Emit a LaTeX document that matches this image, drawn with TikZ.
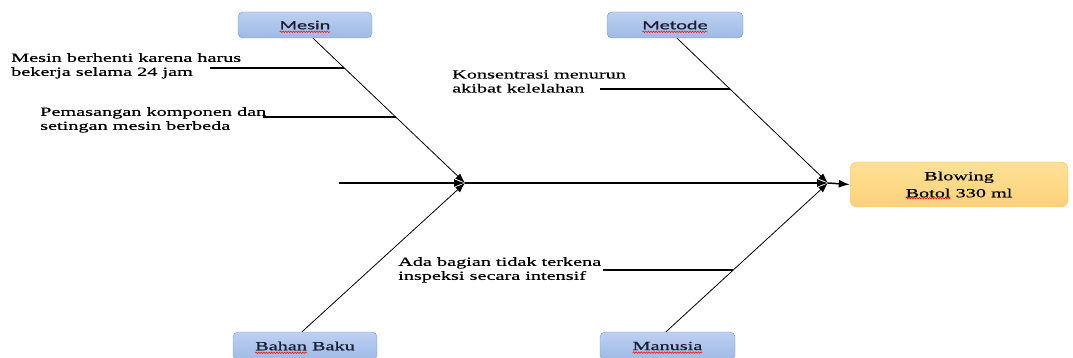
\documentclass[tikz,border=0pt]{standalone}
\usepackage{fontspec}
\setmainfont[FakeStretch=1.62,FakeBold=0.5]{Liberation Serif}
\newfontfamily\catfont[FakeStretch=1.62,FakeBold=0.8]{Carlito}
\newfontfamily\catserif[FakeStretch=1.62,FakeBold=0.8]{Liberation Serif}
\usetikzlibrary{arrows.meta,decorations.pathmorphing}

\definecolor{blueTop}{RGB}{188,208,240}
\definecolor{blueBot}{RGB}{158,186,230}
\definecolor{blueEdge}{RGB}{118,148,204}
\definecolor{inkBlue}{RGB}{25,30,50}
\definecolor{sunTop}{RGB}{254,224,150}
\definecolor{sunBot}{RGB}{252,210,122}
\definecolor{sunEdge}{RGB}{244,196,104}

\newcommand\labelfont{\fontsize{12.5}{14}\selectfont}
\newcommand\measure[2]{\newlength#1\settowidth#1{#2}}

\tikzset{
  cat/.style={draw=blueEdge, rounded corners=5pt, top color=blueTop, bottom color=blueBot,
    minimum height=26pt, inner sep=0pt, text=inkBlue, font=\catserif\labelfont},
  effect/.style={draw=sunEdge, rounded corners=7pt, top color=sunTop, bottom color=sunBot,
    minimum width=218pt, minimum height=45pt, inner sep=0pt, align=center, font=\labelfont},
  cause/.style={anchor=north west, align=left, inner sep=0pt, font=\labelfont},
  bone/.style={line width=0.8pt, -{Latex[length=10pt,width=7pt]}},
  spine/.style={line width=1.5pt, -{Latex[length=11pt,width=8pt]}},
  twig/.style={line width=1.1pt},
  squig/.style={red, line width=0.5pt, decorate,
    decoration={snake, amplitude=0.8pt, segment length=2.6pt}}
}

\begin{document}
% word widths for the spell-check waves
\measure\wMesin{\catfont\labelfont Mesin}
\measure\wMetode{\catfont\labelfont Metode}
\measure\wManusia{\catserif\labelfont Manusia}
\measure\wBahan{\catserif\labelfont Bahan}
\measure\wBahanBaku{\catserif\labelfont Bahan Baku}
\measure\wBotol{\labelfont Botol}
\measure\wBotolMl{\labelfont Botol 330 ml}
\begin{tikzpicture}[x=1pt,y=-1pt]
  \useasboundingbox (0,0) rectangle (1073,358);

  % categories and effect
  \node[cat, minimum width=134pt, font=\catfont\labelfont] (mesin) at (305,25) {Mesin};
  \node[cat, minimum width=136pt, font=\catfont\labelfont] (metode) at (675,25) {Metode};
  \node[cat, minimum width=144pt, minimum height=28pt] (bahan) at (305,346) {Bahan Baku};
  \node[cat, minimum width=135pt, minimum height=28pt] (manusia) at (667.5,346) {Manusia};
  \node[effect] (blowing) at (959,184.5) {Blowing\\[3pt]Botol 330 ml};

  % spell-check waves
  \draw[squig] ([xshift=-0.5\wMesin,yshift=-2.5pt]mesin.base) -- ++(\wMesin,0);
  \draw[squig] ([xshift=-0.5\wMetode,yshift=-2.5pt]metode.base) -- ++(\wMetode,0);
  \draw[squig] ([xshift=-0.5\wManusia,yshift=-2.5pt]manusia.base) -- ++(\wManusia,0);
  \draw[squig] ([xshift=-0.5\wBahanBaku,yshift=-2.5pt]bahan.base) -- ++(\wBahan,0);
  \draw[squig] ([xshift=-0.5\wBotolMl,yshift=9pt]blowing.south) -- ++(\wBotol,0);

  % causes
  \node[cause] (c1) at (11,53) {Mesin berhenti karena harus\\bekerja selama 24 jam};
  \node[cause] (c2) at (40,107) {Pemasangan komponen dan\\setingan mesin berbeda};
  \node[cause] (c3) at (452,70) {Konsentrasi menurun\\akibat kelelahan};
  \node[cause] (c4) at (398,257) {Ada bagian tidak terkena\\inspeksi secara intensif};

  % spine
  \coordinate (tail) at (339,183);
  \coordinate (j1) at (465,183);
  \coordinate (j2) at (828,183);
  \draw[spine] (tail) -- (j1);
  \draw[spine] (j1) -- (j2);
  \draw[spine] (j2) -- (blowing.west);

  % bones
  \draw[bone] ([xshift=8pt]mesin.south) -- (j1);
  \draw[bone] ([xshift=2pt]metode.south) -- (j2);
  \draw[bone] ([xshift=-3pt]bahan.north) -- (j1);
  \draw[bone] ([xshift=-1.5pt]manusia.north) -- (j2);

  % twigs
  \coordinate (s1) at (210,68);   \coordinate (e1) at (344.4,68);
  \coordinate (s2) at (263,117);  \coordinate (e2) at (395.8,117);
  \coordinate (s3) at (600,89);   \coordinate (e3) at (730.1,89);
  \coordinate (s4) at (603,270);  \coordinate (e4) at (733.4,270);
  \draw[twig] (s1) -- (e1);
  \draw[twig] (s2) -- (e2);
  \draw[twig] (s3) -- (e3);
  \draw[twig] (s4) -- (e4);
\end{tikzpicture}
\end{document}
